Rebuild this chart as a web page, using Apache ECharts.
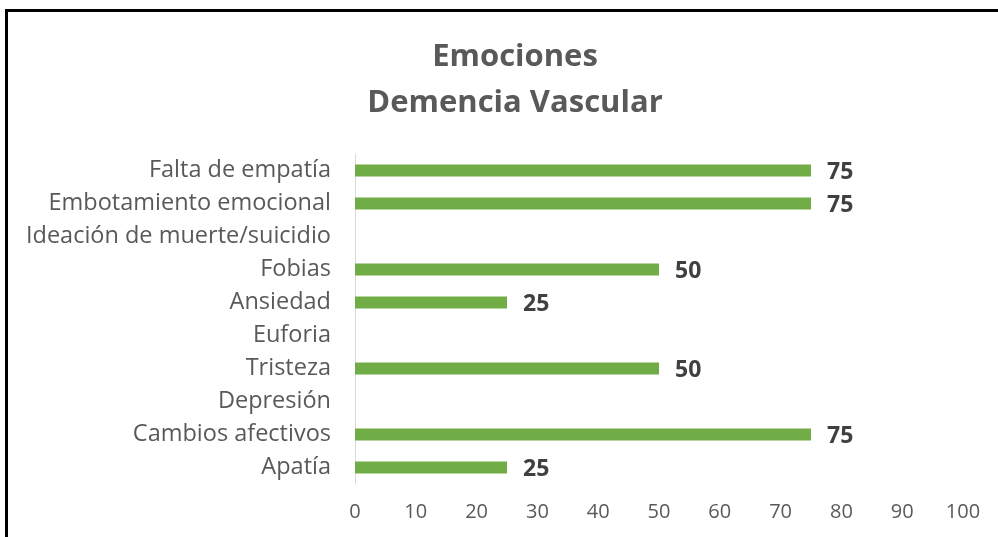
<!DOCTYPE html>
<html><head><meta charset="utf-8">
<script src="https://cdn.jsdelivr.net/npm/echarts@6/dist/echarts.min.js"></script>
<style>html,body{margin:0;padding:0;background:#fff}#c{width:998px;height:537px}</style>
</head><body><div id="c"></div>
<script>
const titleLines = ['Emociones', 'Demencia Vascular'];
const categories = ['Apatía','Cambios afectivos','Depresión','Tristeza','Euforia','Ansiedad','Fobias','Ideación de muerte/suicidio','Embotamiento emocional','Falta de empatía'];
const values = [25, 75, null, 50, null, 25, 50, null, 75, 75];
const xTicks = [0, 100, 10];

const chart = echarts.init(document.getElementById('c'));
chart.setOption({
  animation: false,
  backgroundColor: '#fff',
  title: {
    text: titleLines.join('\n'),
    left: 510, top: 29, textAlign: 'center',
    textStyle: { fontFamily: 'Open Sans', fontWeight: 'bold', fontSize: 31, color: '#595959', lineHeight: 46 }
  },
  graphic: [
    { type: 'line', shape: { x1: 5, y1: 10.5, x2: 998, y2: 10.5 }, style: { stroke: '#000', lineWidth: 3 } },
    { type: 'line', shape: { x1: 6.5, y1: 9, x2: 6.5, y2: 537 }, style: { stroke: '#000', lineWidth: 3 } }
  ],
  grid: { left: 355, right: 35, top: 154, bottom: 53, containLabel: false },
  xAxis: {
    type: 'value', min: xTicks[0], max: xTicks[1], interval: xTicks[2],
    axisLine: { show: false }, axisTick: { show: false }, splitLine: { show: false },
    axisLabel: { fontFamily: 'Open Sans', fontSize: 20, color: '#595959', margin: 18 }
  },
  yAxis: {
    type: 'category', data: categories,
    axisLine: { show: true, lineStyle: { color: '#d9d9d9', width: 1 } },
    axisTick: { show: false },
    axisLabel: { fontFamily: 'Open Sans', fontSize: 23.5, color: '#595959', margin: 24 }
  },
  series: [{
    type: 'bar', data: values, barWidth: 12,
    itemStyle: { color: '#70AD47' },
    label: { show: true, position: 'right', distance: 16, offset: [0, 2], fontFamily: 'Open Sans', fontWeight: 'bold', fontSize: 23, color: '#404040' }
  }]
});
</script></body></html>
